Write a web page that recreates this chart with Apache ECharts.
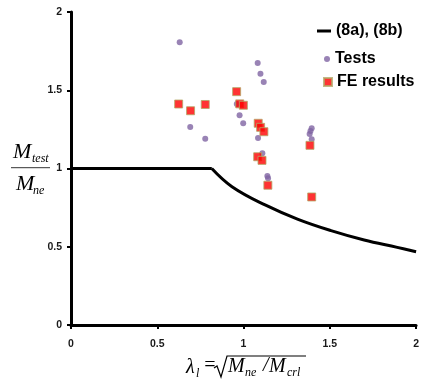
<!DOCTYPE html>
<html>
<head>
<meta charset="utf-8">
<script src="https://cdn.jsdelivr.net/npm/echarts@6/dist/echarts.min.js"></script>
<style>
html,body{margin:0;padding:0;background:#fff;}
#chart{width:422px;height:384px;}
</style>
</head>
<body>
<div id="chart"></div>
<script>
// Design curve (8a), (8b)
const curveX = [0, 0.816, 0.933, 1.125, 1.316, 1.507, 1.699, 1.891, 2.0];
const curveY = [1, 1, 0.884, 0.767, 0.675, 0.603, 0.543, 0.496, 0.468];

// Tests (purple circles)
const testsX = [0.630, 1.082, 1.098, 1.117, 0.961, 0.977, 0.998, 0.691, 0.778, 1.084, 1.109, 1.138, 1.142, 1.395, 1.388, 1.383, 1.395];
const testsY = [1.806, 1.674, 1.606, 1.553, 1.412, 1.340, 1.289, 1.265, 1.190, 1.195, 1.097, 0.952, 0.937, 1.257, 1.240, 1.220, 1.187];

// FE results (red squares)
const feX = [0.624, 0.693, 0.778, 0.960, 0.978, 0.999, 1.085, 1.099, 1.118, 1.082, 1.107, 1.141, 1.385, 1.395];
const feY = [1.412, 1.369, 1.409, 1.491, 1.413, 1.404, 1.289, 1.263, 1.235, 1.075, 1.052, 0.893, 1.148, 0.818];

const xTickLabels = ['0', '0.5', '1', '1.5', '2'];
const yTickLabels = ['0', '0.5', '1', '1.5', '2'];

const lineName = '(8a), (8b)';
const testsName = 'Tests';
const feName = 'FE results';

const zip = (a, b) => a.map((v, i) => [v, b[i]]);
const flatPart = zip(curveX.slice(0, 2), curveY.slice(0, 2));
const curvePart = zip(curveX.slice(1), curveY.slice(1));

const chart = echarts.init(document.getElementById('chart'), null, {renderer: 'canvas'});
const tickFont = {fontSize: 10.5, fontWeight: 'bold', fontFamily: 'Liberation Sans', color: '#1a1a1a'};
const serif = 'Liberation Serif';
const legendText = {fontSize: 16, fontWeight: 'bold', fontFamily: 'Liberation Sans', color: '#000'};

function t(text, x, y, size) {
  return {type: 'text', x: x, y: y, style: {text: text, fontSize: size, fontFamily: serif, fontStyle: 'italic', fill: '#000', align: 'left', verticalAlign: 'middle'}};
}

chart.setOption({
  animation: false,
  backgroundColor: '#fff',
  grid: {left: 71, right: 3, top: 12, bottom: 59, containLabel: false},
  xAxis: {
    type: 'value', min: 0, max: 2, interval: 0.5,
    axisLine: {show: true, lineStyle: {color: '#000', width: 3}},
    axisTick: {show: true, length: 4, lineStyle: {color: '#000', width: 2}},
    splitLine: {show: false},
    axisLabel: Object.assign({margin: 14, formatter: v => xTickLabels[Math.round(v / 0.5)]}, tickFont)
  },
  yAxis: {
    type: 'value', min: 0, max: 2, interval: 0.5,
    axisLine: {show: true, lineStyle: {color: '#000', width: 3}},
    axisTick: {show: true, length: 4, lineStyle: {color: '#000', width: 2}},
    splitLine: {show: false},
    axisLabel: Object.assign({margin: 9, formatter: v => yTickLabels[Math.round(v / 0.5)]}, tickFont)
  },
  legend: [
    {data: [{name: lineName, icon: 'rect'}], left: 312, top: 18, itemWidth: 14, itemHeight: 3, itemGap: 0, textStyle: legendText},
    {data: [{name: testsName, icon: 'circle'}], left: 319, top: 46, itemWidth: 6, itemHeight: 6, textStyle: legendText},
    {data: [{name: feName, icon: 'rect'}], left: 318, top: 69, itemWidth: 8, itemHeight: 8, textStyle: legendText}
  ],
  series: [
    {name: lineName, type: 'line', data: flatPart, showSymbol: false, symbol: 'none', color: '#000', lineStyle: {color: '#000', width: 3}, z: 3},
    {name: lineName, type: 'line', data: curvePart, smooth: 0.4, showSymbol: false, symbol: 'none', color: '#000', lineStyle: {color: '#000', width: 3}, z: 3},
    {name: testsName, type: 'scatter', data: zip(testsX, testsY), symbol: 'circle', symbolSize: 6, itemStyle: {color: '#8064A2'}, z: 4},
    {name: feName, type: 'scatter', data: zip(feX, feY), symbol: 'rect', symbolSize: 8, itemStyle: {color: '#FF0000', borderColor: '#B3A866', borderWidth: 1}, z: 5}
  ],
  graphic: [
    // y-axis title: M_test / M_ne
    t('M', 13, 152.6, 22),
    t('test', 32, 159, 12),
    {type: 'line', shape: {x1: 11, y1: 167.7, x2: 50, y2: 167.7}, style: {stroke: '#333', lineWidth: 1}},
    t('M', 16, 184.6, 22),
    t('ne', 33, 191, 12),
    // x-axis title: lambda_l = sqrt(M_ne / M_crl)
    t('\u03BB', 186, 368, 20),
    t('l', 196, 374, 12),
    t('=', 203, 366, 20),
    {type: 'polyline', shape: {points: [[214, 368], [217, 366], [221, 377], [227, 356], [306, 356]]}, style: {stroke: '#000', lineWidth: 1.2, fill: null}},
    t('M', 228, 367, 20),
    t('ne', 245, 373, 12),
    t('/', 263, 366, 20),
    t('M', 269, 367, 20),
    t('crl', 287, 373, 12)
  ]
});
</script>
</body>
</html>
